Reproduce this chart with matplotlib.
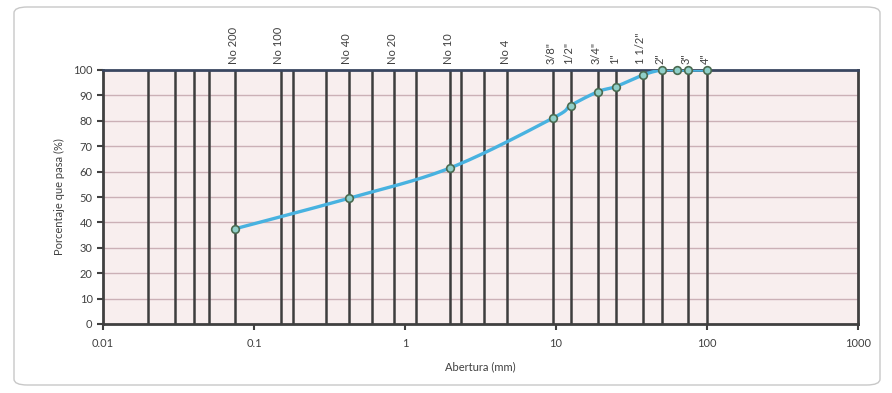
import numpy as np
import matplotlib.pyplot as plt
from matplotlib.patches import FancyBboxPatch

# sieve openings drawn as vertical lines (mm)
sieves = [0.02, 0.03, 0.04, 0.05, 0.075, 0.15, 0.18, 0.3, 0.425, 0.6, 0.85, 1.18,
          2.0, 2.36, 3.35, 4.75, 9.5, 12.5, 19, 25, 37.5, 50, 75, 100]

# labelled sieves at the top
label_sizes = [0.075, 0.15, 0.425, 0.85, 2.0, 4.75, 9.5, 12.5, 19, 25, 37.5, 50, 75, 100]
label_names = ["No 200", "No 100", "No 40", "No 20", "No 10", "No 4",
               '3/8"', '1/2"', '3/4"', '1"', '1 1/2"', '2"', '3"', '4"']

# grading curve
abertura = [0.075, 0.425, 2.0, 9.5, 12.5, 19, 25, 37.5, 50, 63, 75, 100]
pasa = [37.5, 49.5, 61.5, 81, 86, 91.5, 93.5, 98, 100, 100, 100, 100]

plt.rcParams['font.family'] = ['Lato', 'DejaVu Sans']

fig = plt.figure(figsize=(8.92, 3.93), dpi=100)
ax = fig.add_axes([103/892, 1 - 324/393, 755/892, 254/393])

# chart-area frame
frame = FancyBboxPatch((14/892, 8/393), 866/892, 378/393,
                       boxstyle="round,pad=0,rounding_size=0.015",
                       transform=fig.transFigure, facecolor='none',
                       edgecolor='#c8c8c8', linewidth=1.0)
fig.patches.append(frame)

ax.set_facecolor('#f8eeee')
ax.set_xscale('log')
ax.set_xlim(0.01, 1000)
ax.set_ylim(0, 100)

for y in range(10, 100, 10):
    ax.axhline(y, color='#cbb0b6', linewidth=1.0, zorder=1)

for s in sieves:
    ax.axvline(s, color='#3d3d3d', linewidth=1.8, zorder=2)

# smooth line (Catmull-Rom in log-x space, like a spreadsheet smoothed line)
lx = np.log10(abertura)
py = np.array(pasa, dtype=float)
P = np.column_stack([lx, py])
Pext = np.vstack([P[0], P, P[-1]])
curve = []
t = np.linspace(0, 1, 30)[:, None]
for i in range(len(P) - 1):
    p0, p1, p2, p3 = Pext[i], Pext[i + 1], Pext[i + 2], Pext[i + 3]
    c1 = p1 + (p2 - p0) / 6
    c2 = p2 - (p3 - p1) / 6
    seg = ((1 - t) ** 3) * p1 + 3 * ((1 - t) ** 2) * t * c1 + 3 * (1 - t) * t ** 2 * c2 + t ** 3 * p2
    curve.append(seg)
curve = np.vstack(curve)
ax.plot(10 ** curve[:, 0], curve[:, 1], color='#48b2e0', linewidth=2.4, zorder=3,
        solid_capstyle='round')
ax.plot(abertura, pasa, linestyle='none', marker='o', markersize=5.5,
        markerfacecolor='#8fcfc8', markeredgecolor='#4a6a50', markeredgewidth=1.2,
        zorder=4, clip_on=False)

for sp in ax.spines.values():
    sp.set_color('#404040')
    sp.set_linewidth(2.0)
ax.spines['top'].set_color('#3a4660')

ax.set_yticks(range(0, 101, 10))
ax.set_xticks([0.01, 0.1, 1, 10, 100, 1000])
ax.set_xticklabels(['0.01', '0.1', '1', '10', '100', '1000'])
ax.xaxis.set_minor_locator(plt.NullLocator())
ax.tick_params(axis='both', labelsize=8, colors='#404040', length=4, width=1.5,
               direction='out')
ax.tick_params(axis='x', pad=6)

for s, name in zip(label_sizes, label_names):
    ax.text(s * 0.97, 102.5, name, rotation=90, ha='center', va='bottom',
            fontsize=8, color='#404040', clip_on=False)

ax.set_ylabel('Porcentaje que pasa (%)', fontsize=8, color='#404040', labelpad=6)
ax.set_xlabel('Abertura (mm)', fontsize=8, color='#404040', labelpad=9)

fig.savefig('out.png', dpi=100, facecolor='white')
